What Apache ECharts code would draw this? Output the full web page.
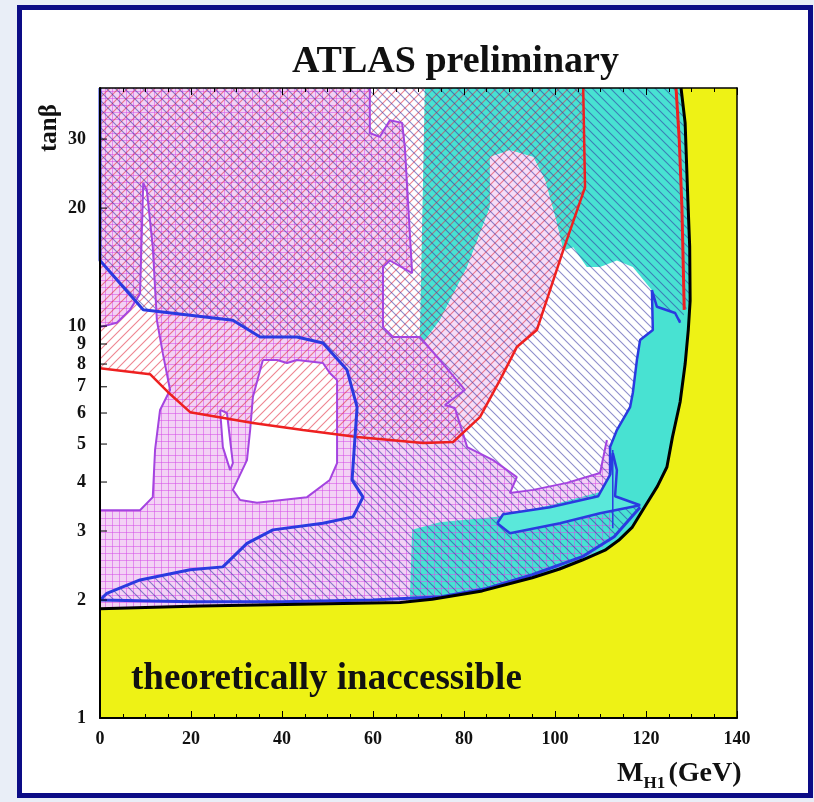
<!DOCTYPE html>
<html lang="en">
<head>
<meta charset="UTF-8">
<title>ATLAS preliminary</title>
<script src="https://cdn.jsdelivr.net/npm/echarts@6/dist/echarts.min.js"></script>
<style>
  html, body { margin: 0; padding: 0; background: #e9eef7; }
  #chart { width: 814px; height: 802px; }
</style>
</head>
<body>
<div id="chart"></div>
<script>
// axis ticks
var xTicks = [0, 20, 40, 60, 80, 100, 120, 140];
var yTickVals = [1, 2, 3, 4, 5, 6, 7, 8, 9, 10, 20, 30];

// theoretical limit (black contour), M_H1 [GeV] vs tanb
var limitCurve = [[0,1.90],[22,1.93],[44,1.95],[66,1.97],[73,2.01],[84,2.11],[95,2.28],[101,2.40],[106,2.53],[111,2.68],[114,2.84],[117,3.07],[120,3.50],[122.5,3.9],[124.6,4.37],[125.8,5.2],[127.5,6.4],[128.6,8.0],[129.3,9.8],[129.7,11.6],[129.6,16],[129.2,21],[128.6,33],[127.7,40.5]];

// red contour
var redMain = [[0,7.81],[11,7.54],[14.9,6.79],[19.8,6.03],[33.6,5.66],[44.6,5.43],[56.5,5.21],[71,5.03],[77.6,5.06],[83.5,5.86],[87.9,7.28],[91.6,8.84],[96,9.77],[101.8,15.6],[106.6,22.6],[106.2,40.5]];
var redRight = [[126.6,40.5],[127.3,30],[127.9,20],[128.2,14],[128.4,11.0]];

// blue contours
var blueMain = [[0,40.5],[0,14.7],[9.5,11.0],[29.2,10.35],[35.2,9.38],[43.3,9.38],[49.0,9.05],[54.3,7.72],[56.5,6.21],[55.4,4.05],[57.8,3.66],[55.6,3.26],[49.0,3.14],[38.0,3.02],[32.3,2.79],[27.0,2.43],[19.8,2.39],[8.8,2.25],[1.5,2.08],[0,2.0],[20,1.98],[40,1.98],[60,2.0],[75,2.04],[85,2.14],[95,2.32],[106,2.58],[113,2.9],[118.7,3.45]];
var blueJagged = [[127.5,10.2],[126.4,10.8],[122.4,11.2],[121.3,12.35],[121.5,9.77],[118.7,9.21],[118.0,8.19],[117.1,6.75],[116.5,6.21],[113.6,5.43],[112.1,4.91],[112.1,4.37],[112.1,4.17]];
var blueIsland = [[87.3,3.14],[88.6,3.31],[98.9,3.45],[109.5,3.68],[112.1,4.17],[112.7,4.74],[113.6,4.29],[113.2,3.68],[118.7,3.49],[109.9,3.33],[101.1,3.14],[90.1,2.96],[87.3,3.14]];
var blueVertical = [[112.7,4.83],[112.7,3.05]];

// magenta contours
var magLeft = [[0,9.94],[3.7,10.2],[6.6,11.0],[8.8,12.1],[9.5,23.2],[10.3,22.2],[11.6,15.9],[12.5,10.35],[13.8,8.53],[15.4,6.87],[13.2,6.11],[12.1,4.83],[11.6,3.66],[8.8,3.39],[0,3.39]];
var magBox = [[35.8,8.19],[38.9,8.19],[41.1,8.05],[43.3,8.19],[49.0,8.05],[50.5,7.59],[52.1,7.28],[52.1,6.0],[52.1,4.47],[50.5,4.05],[45.5,3.66],[34.5,3.54],[30.8,3.60],[29.2,3.82],[32.3,4.55],[33.0,5.43],[33.6,6.59],[35.8,8.19]];
var magSpike = [[26.4,6.11],[27.9,6.0],[29.2,4.47],[28.6,4.29],[27.0,4.91],[26.4,6.11]];
var magRight = [[59.3,40.5],[59.3,31.1],[61.5,30.4],[63.7,33.5],[66.4,33.0],[67.0,28.6],[68.6,13.65],[63.7,14.7],[62.2,14.15],[62.2,9.94],[64.4,9.38],[70.3,9.38],[74.7,8.19],[80.2,6.87],[75.8,6.29],[78.0,6.18],[80.7,4.91],[86.4,4.55],[91.6,4.12],[90.1,3.75],[95.2,3.82],[102.6,3.98],[109.9,4.22],[111.4,5.12]];

// filled regions
var cyanRegion = [[71.4,40.5],[127.7,40.5],[128.6,33],[129.2,21],[129.6,16],[129.7,11.6],[129.3,9.8],[128.6,8.0],[127.5,6.4],[125.8,5.2],[124.6,4.37],[122.5,3.9],[120,3.5],[117,3.07],[114,2.84],[111,2.68],[106,2.53],[101,2.40],[95,2.28],[84,2.11],[73,2.01],[68.1,2.0],[68.6,3.02],[74.7,3.16],[87.3,3.26],[98.9,3.49],[109.9,3.77],[112.1,4.05],[112.1,4.37],[112.1,4.91],[113.6,5.43],[116.5,6.21],[117.1,6.75],[118.0,8.19],[118.7,9.21],[121.5,9.77],[121.3,12.35],[117.1,14.15],[113.6,14.7],[109.9,14.15],[107.0,14.15],[104.0,15.9],[101.8,15.6],[100.4,18.3],[97.8,23.6],[95.2,27.0],[90.1,28.1],[85.7,27.0],[85.7,20.1],[80.7,14.15],[74.7,10.35],[71.0,9.05],[70.3,9.38]];
var tongue = [[85.7,27.0],[90.1,28.1],[95.2,27.0],[97.8,23.6],[100.4,18.3],[101.8,15.6],[96.0,9.77],[91.6,8.84],[87.9,7.28],[83.5,5.86],[79.6,5.3],[78.0,6.18],[75.8,6.29],[80.2,6.87],[74.7,8.19],[70.3,9.38],[71.0,9.05],[74.7,10.35],[80.7,14.15],[85.7,20.1]];
var pinkRegion = magRight.concat([[112.7,4.83],[112.7,2.84],[106,2.53],[95,2.28],[84,2.11],[73,2.01],[66,1.97],[44,1.95],[22,1.93],[0,1.90],[0,40.5]]);
var redExcl = [[0,40.5]].concat(redMain.slice().reverse()).concat([[0,7.81]]);
var blueExcl = [[0,40.5],[127.7,40.5],[128.6,33],[129.2,21],[129.6,16],[129.7,11.6]]
  .concat(blueJagged)
  .concat([[112.7,3.7],[118.7,3.45],[113,2.9],[106,2.58],[95,2.32],[85,2.14],[75,2.04],[60,2.0],[40,1.98],[20,1.98],[0,2.0],[1.5,2.08],[8.8,2.25],[19.8,2.39],[27.0,2.43],[32.3,2.79],[38.0,3.02],[49.0,3.14],[55.6,3.26],[57.8,3.66],[55.4,4.05],[56.5,6.21],[54.3,7.72],[49.0,9.05],[43.3,9.38],[35.2,9.38],[29.2,10.35],[9.5,11.0],[0,14.7]]);
var yellowRegion = limitCurve.concat([[140,40.5],[140,1],[0,1]]);

var chart = echarts.init(document.getElementById('chart'));

// hatch pattern tiles
function hatch(size, color, dir, width) {
    var c = document.createElement('canvas');
    c.width = size; c.height = size;
    var g = c.getContext('2d');
    g.strokeStyle = color;
    g.lineWidth = width || 1;
    g.beginPath();
    if (dir === '/') {
        g.moveTo(-1, 1); g.lineTo(1, -1);
        g.moveTo(0, size); g.lineTo(size, 0);
        g.moveTo(size - 1, size + 1); g.lineTo(size + 1, size - 1);
    } else if (dir === '\\') {
        g.moveTo(-1, size - 1); g.lineTo(1, size + 1);
        g.moveTo(0, 0); g.lineTo(size, size);
        g.moveTo(size - 1, -1); g.lineTo(size + 1, 1);
    } else {
        g.moveTo(0.5, 0); g.lineTo(0.5, size);
        g.moveTo(0, 0.5); g.lineTo(size, 0.5);
    }
    g.stroke();
    return { image: c, repeat: 'repeat' };
}

function area(pts, fill, z) {
    return {
        type: 'custom', z: z, silent: true, clip: true, animation: false,
        data: pts,
        renderItem: function (params, api) {
            if (params.dataIndex !== 0) return null;
            return {
                type: 'polygon',
                shape: { points: pts.map(function (p) { return api.coord(p); }) },
                style: { fill: fill }
            };
        }
    };
}

function outline(pts, color, width, z) {
    return {
        type: 'line', data: pts, symbol: 'none', showSymbol: false, silent: true,
        animation: false, z: z, clip: true,
        lineStyle: { color: color, width: width }
    };
}

var serif = '"Liberation Serif", "DejaVu Serif", serif';
var PURPLE = '#a444e0';
var BLUE = '#2a3ae0';
var RED = '#ee2020';

var option = {
    animation: false,
    backgroundColor: '#e9eef7',
    graphic: [
        { type: 'rect', z: -10, shape: { x: 19.5, y: 7.5, width: 791, height: 788 },
          style: { fill: '#ffffff', stroke: '#0c0c86', lineWidth: 5 } },
        { type: 'text', z: 120, left: 292, top: 43,
          style: { text: 'ATLAS preliminary', font: 'bold 38px ' + serif, fill: '#111' } },
        { type: 'text', z: 120, left: 131, top: 661,
          style: { text: 'theoretically inaccessible', font: 'bold 37px ' + serif, fill: '#111' } },
        { type: 'text', z: 120, x: 50, y: 152, rotation: Math.PI / 2,
          style: { text: 'tanβ', font: 'bold 25px ' + serif, fill: '#111', align: 'left', verticalAlign: 'middle' },
          originX: 0, originY: 0 },
        { type: 'text', z: 120, left: 617, top: 760,
          style: { text: '{m|M}{s|H1} {m|(GeV)}', rich: {
              m: { font: 'bold 28px ' + serif, fill: '#111' },
              s: { font: 'bold 17px ' + serif, fill: '#111', padding: [20, 0, 0, 0] }
          } } }
    ],
    grid: { left: 100, top: 88, width: 637, height: 630, show: true, backgroundColor: '#ffffff', borderWidth: 0 },
    xAxis: [{
        type: 'value', min: 0, max: 140, interval: 20, z: 100,
        axisLine: { show: true, lineStyle: { color: '#000', width: 2 } },
        axisTick: { show: true, inside: true, length: 7, lineStyle: { color: '#000' } },
        minorTick: { show: true, splitNumber: 4, length: 4, lineStyle: { color: '#000' } },
        axisLabel: { margin: 12, fontFamily: serif, fontWeight: 'bold', fontSize: 18, color: '#111' },
        splitLine: { show: false }
    }, {
        type: 'value', min: 0, max: 140, interval: 20, position: 'top', z: 100,
        axisLine: { show: true, lineStyle: { color: '#000', width: 1.5 } },
        axisTick: { show: true, inside: true, length: 7, lineStyle: { color: '#000' } },
        minorTick: { show: true, splitNumber: 4, length: 4, lineStyle: { color: '#000' } },
        axisLabel: { show: false }, splitLine: { show: false }
    }],
    yAxis: [{
        type: 'log', logBase: 10, min: 1, max: 40.5, z: 100,
        axisLine: { show: true, onZero: false, lineStyle: { color: '#000', width: 2 } },
        axisTick: { show: false }, axisLabel: { show: false }, splitLine: { show: false }
    }, {
        type: 'log', logBase: 10, min: 1, max: 40.5, position: 'right', z: 100,
        axisLine: { show: true, onZero: false, lineStyle: { color: '#000', width: 1.5 } },
        axisTick: { show: false }, axisLabel: { show: false }, splitLine: { show: false }
    }],
    series: [
        area(pinkRegion, '#f3d2f5', 2),
        area(cyanRegion, '#48e2d2', 3),
        area(tongue, '#f6dcf7', 4),
        area(pinkRegion, hatch(7, 'rgba(214,80,232,0.55)', '+', 1), 5),
        area(magLeft, '#ffffff', 6),
        area(magBox, '#ffffff', 6),
        area(magSpike, '#ffffff', 6),
        area(redExcl, hatch(9, 'rgba(226,50,70,0.6)', '/', 1.1), 7),
        area(blueExcl, hatch(9, 'rgba(50,50,160,0.55)', '\\', 1.1), 8),
        area(blueIsland, '#5ae8da', 9),
        area(yellowRegion, '#eef215', 10),
        outline(magLeft, PURPLE, 2, 11),
        outline(magBox, PURPLE, 2, 11),
        outline(magSpike, PURPLE, 2, 11),
        outline(magRight, PURPLE, 2, 11),
        outline(redMain, RED, 2.5, 12),
        outline(redRight, RED, 3, 12),
        outline(blueMain, BLUE, 3, 13),
        outline(blueJagged, BLUE, 2.5, 13),
        outline(blueIsland, BLUE, 2.5, 13),
        outline(blueVertical, BLUE, 1.5, 13),
        outline(limitCurve, '#000000', 3, 14),
        {
            // y tick marks and labels on the log axis
            type: 'custom', z: 110, silent: true, clip: false, animation: false,
            data: yTickVals.map(function (v) { return [0, v]; }),
            renderItem: function (params, api) {
                var p = api.coord([api.value(0), api.value(1)]);
                return {
                    type: 'group',
                    children: [
                        { type: 'line', shape: { x1: p[0], y1: p[1], x2: p[0] + 7, y2: p[1] },
                          style: { stroke: '#000', lineWidth: 1 } },
                        { type: 'text', x: p[0] - 14, y: p[1],
                          style: { text: String(api.value(1)), font: 'bold 18px ' + serif, fill: '#111',
                                   align: 'right', verticalAlign: 'middle' } }
                    ]
                };
            }
        }
    ]
};

chart.setOption(option);
</script>
</body>
</html>
